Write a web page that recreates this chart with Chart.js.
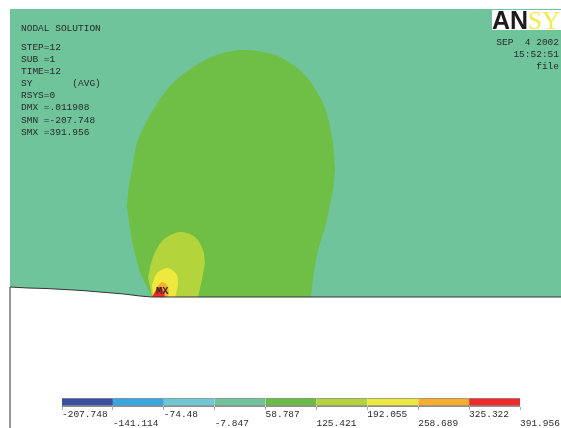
<!DOCTYPE html>
<html>
<head>
<meta charset="utf-8">
<title>Nodal solution</title>
<script src="https://cdn.jsdelivr.net/npm/chart.js@4"></script>
<style>
    body { margin: 0; background: #fff; }
    #plot { position: relative; width: 561px; height: 428px; overflow: hidden; filter: blur(0.3px); }
    canvas { position: absolute; left: 0; }
    .note { position: absolute; font: 9.5px/12.1px "Liberation Mono", monospace; color: #2a2a2a; white-space: pre; }
    #mx { left: 156px; top: 285px; font-size: 10.5px; font-weight: bold; color: #3a2a20; }
    #logo { position: absolute; left: 492px; top: 10px; width: 69px; height: 20px; background: #fff; overflow: hidden;
            font: bold 25px/21px "Liberation Sans", sans-serif; white-space: pre; color: #1c1c1c; }
    #logo span { color: #f1ea4a; font-family: "Liberation Serif", serif; font-weight: normal; }
</style>
</head>
<body>
<div id="plot">
    <canvas id="contour" width="561" height="428" style="top:0"></canvas>
    <canvas id="legendBar" width="561" height="36" style="top:392px"></canvas>
    <div class="note" style="left:21px;top:23px">NODAL SOLUTION</div>
    <div class="note" style="left:21px;top:42px">STEP=12
SUB =1
TIME=12
SY       (AVG)
RSYS=0
DMX =.011908
SMN =-207.748
SMX =391.956</div>
    <div class="note" style="right:2px;top:37px;text-align:right">SEP  4 2002
15:52:51
file</div>
    <div class="note" id="mx">MX</div>
    <div id="logo">AN<span>SYS</span></div>
</div>
<script>
"use strict";

// contour outlines
const surface = [[10, 287], [28, 288], [46, 288.5], [64, 289.5], [82, 290.5], [100, 292], [124, 294], [140, 296], [152, 297], [561, 297]];
const greenEdge = [[152, 297], [140, 273], [132, 242], [127, 207], [129, 185], [132, 170], [137, 143], [150, 115], [173, 83], [207, 59], [240, 50], [275, 55], [302, 72], [320, 97], [328, 118], [333, 143], [335, 170], [333, 190], [327, 220], [318, 250], [313, 277], [311, 297]];
const limeEdge = [[152, 297], [148, 277], [153, 257], [163, 240], [180, 232], [195, 237], [203, 250], [205, 263], [202, 280], [198, 297]];
const yellowEdge = [[153, 297], [152, 285], [157, 273], [168, 268], [177, 275], [178, 285], [175, 297]];
const orangeEdge = [[153, 297], [157, 287], [162, 282], [167, 285], [169, 292], [168, 297]];
const redEdge = [[152, 297], [155, 292], [159, 287], [163, 290], [165, 297]];
const wall = [[10, 287], [10, 428]];

// legend levels and colours
const levels = [-207.748, -141.114, -74.48, -7.847, 58.787, 125.421, 192.055, 258.689, 325.322, 391.956];
const levelColors = ['#3a4fa0', '#36a7e0', '#6fc8d4', '#6fc49c', '#6bbb45', '#b4d43c', '#ede93e', '#f7ae2e', '#ee2a2a'];

const toPoints = (edge) => edge.map(([x, y]) => ({ x, y }));

// the filler wants x to keep rising, so cut an outline at its widest points and fill the upper part down to the lower part
const region = (edge, color) => {
    const xs = edge.map((p) => p[0]);
    const left = xs.indexOf(Math.min(...xs));
    const right = xs.indexOf(Math.max(...xs));
    const upper = edge.slice(left, right + 1);
    const lower = [...edge.slice(0, left + 1).reverse(), ...edge.slice(right).reverse()];
    return [
        { data: toPoints(upper), showLine: true, tension: 0.3, pointRadius: 0, borderWidth: 0, backgroundColor: color, fill: '+1' },
        { data: toPoints(lower), showLine: true, pointRadius: 0, borderWidth: 0, fill: false },
    ];
};

new Chart(document.getElementById('contour'), {
    type: 'scatter',
    data: {
        datasets: [
            { data: toPoints(surface), showLine: true, pointRadius: 0, borderWidth: 1, borderColor: '#333', fill: false },
            { data: toPoints(wall), showLine: true, pointRadius: 0, borderWidth: 1, borderColor: '#888', fill: false },
            ...region(redEdge, '#ee2a2a'),
            ...region(orangeEdge, '#f7ae2e'),
            ...region(yellowEdge, '#ede93e'),
            ...region(limeEdge, '#b4d43c'),
            ...region(greenEdge, '#6fbe46'),
            // the plain field above the surface
            { data: toPoints(surface), showLine: true, pointRadius: 0, borderWidth: 0, backgroundColor: '#6fc49c', fill: { value: 9 } },
        ]
    },
    options: {
        responsive: false,
        animation: false,
        layout: { padding: 0 },
        plugins: { legend: { display: false }, tooltip: { enabled: false } },
        scales: {
            x: { type: 'linear', min: 0, max: 561, display: false },
            y: { type: 'linear', min: 0, max: 428, reverse: true, display: false }
        }
    }
});

new Chart(document.getElementById('legendBar'), {
    type: 'bar',
    data: {
        labels: ['SY'],
        datasets: levelColors.map((color, i) => ({
            data: [[levels[i], levels[i + 1]]],
            backgroundColor: color,
            borderColor: '#8f8f8f',
            borderSkipped: false,
            borderWidth: { top: 1, bottom: 2, left: 0, right: 0 },
            barPercentage: 1,
            categoryPercentage: 1,
            grouped: false,
        }))
    },
    options: {
        indexAxis: 'y',
        responsive: false,
        animation: false,
        layout: { padding: { left: 62, right: 41, top: 6, bottom: 0 } },
        plugins: { legend: { display: false }, tooltip: { enabled: false } },
        scales: {
            x: {
                type: 'linear',
                min: levels[0],
                max: levels[levels.length - 1],
                afterBuildTicks: (axis) => { axis.ticks = levels.map((value) => ({ value })); },
                afterFit: (axis) => { axis.height = 21; },
                grid: { drawOnChartArea: false, tickLength: 3, color: '#aaa' },
                border: { display: false },
                ticks: {
                    autoSkip: false,
                    maxRotation: 0,
                    align: 'start',
                    padding: 0,
                    color: '#2a2a2a',
                    font: { family: '"Liberation Mono", monospace', size: 9.5, lineHeight: 0.95 },
                    callback: (value) => {
                        const i = levels.indexOf(value);
                        return i % 2 === 0 ? [String(value), ''] : ['', String(value)];
                    }
                }
            },
            y: { display: false }
        }
    }
});
</script>
</body>
</html>
